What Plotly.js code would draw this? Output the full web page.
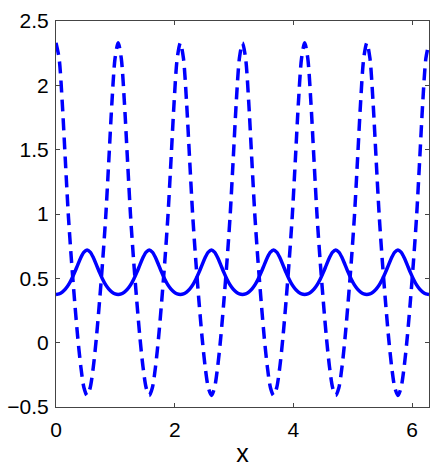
<!DOCTYPE html>
<html><head><meta charset="utf-8">
<script src="https://cdn.plot.ly/plotly-3.0.1.min.js"></script>
<style>html,body{margin:0;padding:0;background:#fff}#chart{width:436px;height:467px}</style>
</head><body><div id="chart"></div>
<script>
// x positions: samples start at 0 and are spaced 2π/120 apart (read along the x axis)
const xStart = 0;
const xStep = 0.0523599;

// solid curve
const solidY = [
  0.375, 0.379, 0.393, 0.416, 0.449, 0.493, 0.546, 0.605, 0.662, 0.704, 0.720, 0.704, 0.662, 0.605, 0.546, 0.493, 0.449, 0.416, 0.393, 0.379,
  0.375, 0.379, 0.393, 0.416, 0.449, 0.493, 0.546, 0.605, 0.662, 0.704, 0.720, 0.704, 0.662, 0.605, 0.546, 0.493, 0.449, 0.416, 0.393, 0.379,
  0.375, 0.379, 0.393, 0.416, 0.449, 0.493, 0.546, 0.605, 0.662, 0.704, 0.720, 0.704, 0.662, 0.605, 0.546, 0.493, 0.449, 0.416, 0.393, 0.379,
  0.375, 0.379, 0.393, 0.416, 0.449, 0.493, 0.546, 0.605, 0.662, 0.704, 0.720, 0.704, 0.662, 0.605, 0.546, 0.493, 0.449, 0.416, 0.393, 0.379,
  0.375, 0.379, 0.393, 0.416, 0.449, 0.493, 0.546, 0.605, 0.662, 0.704, 0.720, 0.704, 0.662, 0.605, 0.546, 0.493, 0.449, 0.416, 0.393, 0.379,
  0.375, 0.379, 0.393, 0.416, 0.449, 0.493, 0.546, 0.605, 0.662, 0.704, 0.720, 0.704, 0.662, 0.605, 0.546, 0.493, 0.449, 0.416, 0.393, 0.379,
  0.375
];

// dashed curve
const dashedY = [
  2.33, 2.21, 1.87, 1.42, 0.98, 0.63, 0.32, 0.04, -0.19, -0.35, -0.41, -0.35, -0.19, 0.04, 0.32, 0.63, 0.98, 1.42, 1.87, 2.21,
  2.33, 2.21, 1.87, 1.42, 0.98, 0.63, 0.32, 0.04, -0.19, -0.35, -0.41, -0.35, -0.19, 0.04, 0.32, 0.63, 0.98, 1.42, 1.87, 2.21,
  2.33, 2.21, 1.87, 1.42, 0.98, 0.63, 0.32, 0.04, -0.19, -0.35, -0.41, -0.35, -0.19, 0.04, 0.32, 0.63, 0.98, 1.42, 1.87, 2.21,
  2.33, 2.21, 1.87, 1.42, 0.98, 0.63, 0.32, 0.04, -0.19, -0.35, -0.41, -0.35, -0.19, 0.04, 0.32, 0.63, 0.98, 1.42, 1.87, 2.21,
  2.33, 2.21, 1.87, 1.42, 0.98, 0.63, 0.32, 0.04, -0.19, -0.35, -0.41, -0.35, -0.19, 0.04, 0.32, 0.63, 0.98, 1.42, 1.87, 2.21,
  2.33, 2.21, 1.87, 1.42, 0.98, 0.63, 0.32, 0.04, -0.19, -0.35, -0.41, -0.35, -0.19, 0.04, 0.32, 0.63, 0.98, 1.42, 1.87, 2.21,
  2.33
];

const xTickVals = [0, 2, 4, 6];
const xTickText = ['0', '2', '4', '6'];
const yTickVals = [-0.5, 0, 0.5, 1, 1.5, 2, 2.5];
const yTickText = ['\u22120.5', '0', '0.5', '1', '1.5', '2', '2.5'];
const xRange = [0, 6.28319];
const yRange = [-0.5, 2.5];
const xLabel = 'x';

const FONT = 'Liberation Sans, Arial, Helvetica, sans-serif';

const traces = [
  {
    type: 'scatter', mode: 'lines', name: 'solid',
    x0: xStart, dx: xStep, y: solidY,
    line: {color: '#0000ff', width: 3.5, shape: 'spline', smoothing: 0.8},
    hoverinfo: 'skip', showlegend: false
  },
  {
    type: 'scatter', mode: 'lines', name: 'dashed',
    x0: xStart, dx: xStep, y: dashedY,
    line: {color: '#0000ff', width: 3.5, dash: '12px,7px', shape: 'spline', smoothing: 0.8},
    hoverinfo: 'skip', showlegend: false
  }
];

const axisCommon = {
  showline: true, linecolor: '#444444', linewidth: 1, mirror: 'ticks',
  ticks: 'inside', ticklen: 4, tickwidth: 1, tickcolor: '#444444',
  showgrid: false, zeroline: false,
  tickfont: {family: FONT, size: 21, color: '#000000'}
};

const layout = {
  width: 436, height: 467,
  margin: {l: 56, r: 7, t: 21, b: 60, pad: 0},
  paper_bgcolor: '#ffffff', plot_bgcolor: '#ffffff',
  showlegend: false,
  xaxis: Object.assign({}, axisCommon, {
    range: xRange, tickmode: 'array', tickvals: xTickVals, ticktext: xTickText,
    ticklabelstandoff: 4,
    title: {text: xLabel, font: {family: FONT, size: 25, color: '#000000'}, standoff: 4}
  }),
  yaxis: Object.assign({}, axisCommon, {
    range: yRange, tickmode: 'array', tickvals: yTickVals, ticktext: yTickText,
    ticklabelstandoff: 2
  })
};

Plotly.newPlot('chart', traces, layout, {staticPlot: true, displayModeBar: false});
</script>
</body></html>
